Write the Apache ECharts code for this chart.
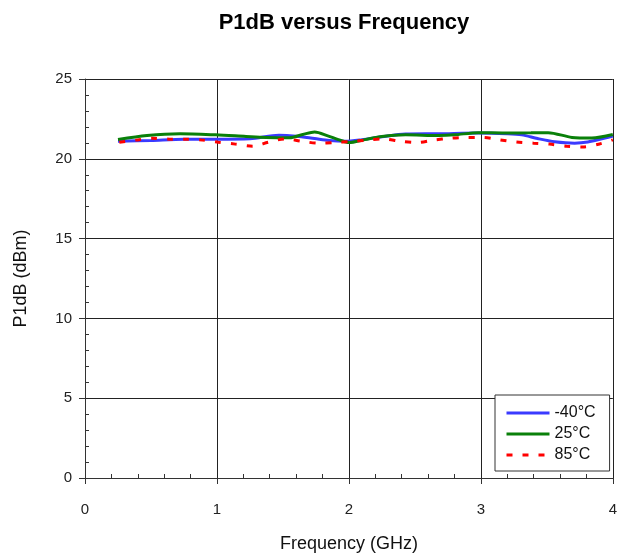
<!DOCTYPE html>
<html>
<head>
<meta charset="utf-8">
<script src="https://cdn.jsdelivr.net/npm/echarts@6/dist/echarts.min.js"></script>
<style>html,body{margin:0;padding:0;background:#fff;}#c{width:620px;height:559px;}</style>
</head>
<body>
<div id="c"></div>
<script>
var seriesNames = ['-40°C', '25°C', '85°C'];
var freqM40 = [0.25, 0.5, 0.75, 1.0, 1.25, 1.47, 1.6, 1.74, 1.85, 1.97, 2.1, 2.25, 2.43, 2.68, 2.98, 3.2, 3.31, 3.43, 3.56, 3.71, 3.81, 3.94, 4.0];
var p1dbM40 = [21.1, 21.15, 21.22, 21.22, 21.25, 21.48, 21.42, 21.27, 21.15, 21.1, 21.2, 21.38, 21.55, 21.57, 21.62, 21.57, 21.5, 21.27, 21.07, 20.98, 21.05, 21.3, 21.42];
var freq25 = [0.25, 0.47, 0.72, 0.99, 1.22, 1.37, 1.55, 1.65, 1.74, 1.84, 1.92, 2.0, 2.12, 2.25, 2.43, 2.68, 2.8, 2.98, 3.18, 3.38, 3.51, 3.69, 3.84, 4.0];
var p1db25 = [21.21, 21.46, 21.57, 21.5, 21.4, 21.34, 21.32, 21.52, 21.68, 21.44, 21.2, 21.02, 21.2, 21.4, 21.5, 21.46, 21.5, 21.64, 21.62, 21.63, 21.64, 21.34, 21.3, 21.52];
var freq85 = [0.26, 0.385, 0.51, 0.64, 0.76, 0.89, 1.01, 1.14, 1.27, 1.39, 1.52, 1.64, 1.77, 1.89, 2.01, 2.14, 2.26, 2.39, 2.52, 2.64, 2.77, 2.89, 3.02, 3.14, 3.27, 3.4, 3.52, 3.65, 3.77, 3.9, 4.0];
var p1db85 = [21.04, 21.17, 21.29, 21.23, 21.23, 21.17, 21.04, 20.92, 20.79, 21.04, 21.25, 21.1, 20.98, 21.02, 21.08, 21.17, 21.25, 21.1, 21.02, 21.17, 21.29, 21.34, 21.34, 21.19, 21.05, 20.98, 20.92, 20.79, 20.74, 20.93, 21.19];

function pairs(xs, ys) { return xs.map(function (x, i) { return [x, ys[i]]; }); }

var font = 'Liberation Sans, Arial, sans-serif';
var axisColor = '#333';
function mainAxis(extra) {
  return Object.assign({
    type: 'value',
    nameLocation: 'middle',
    nameTextStyle: { fontFamily: font, fontSize: 18, color: '#111' },
    axisLine: { show: true, onZero: false, lineStyle: { color: axisColor, width: 1 } },
    axisTick: { show: true, inside: false, length: 6, lineStyle: { color: axisColor } },
    minorTick: { show: false },
    splitLine: { show: true, lineStyle: { color: '#222', width: 1 } }
  }, extra);
}
function minorAxis(extra) {
  return Object.assign({
    type: 'value',
    axisLine: { show: false, onZero: false },
    axisTick: { show: false, inside: true },
    minorTick: { show: true, splitNumber: 5, length: 4, lineStyle: { color: axisColor } },
    axisLabel: { show: false },
    splitLine: { show: false }
  }, extra);
}

var chart = echarts.init(document.getElementById('c'));
chart.setOption({
  animation: false,
  backgroundColor: '#fff',
  title: {
    text: 'P1dB versus Frequency',
    left: 339, top: 7, textAlign: 'center',
    textStyle: { fontFamily: font, fontWeight: 'bold', fontSize: 22, color: '#000' }
  },
  grid: { left: 85, right: 5, top: 79, bottom: 81, containLabel: false },
  legend: {
    orient: 'vertical',
    left: 495, top: 395,
    padding: [10, 14, 8, 10],
    itemGap: 5,
    itemWidth: 43, itemHeight: 14,
    backgroundColor: '#fff',
    borderColor: '#333', borderWidth: 1,
    borderRadius: 0,
    itemStyle: { color: 'rgba(0,0,0,0)', borderWidth: 0, opacity: 0 },
    lineStyle: { width: 3 },
    textStyle: { fontFamily: font, fontSize: 16, color: '#111' },
    data: seriesNames
  },
  xAxis: [
    mainAxis({ min: 0, max: 4, interval: 1, position: 'bottom',
      name: 'Frequency (GHz)', nameGap: 57,
      axisLabel: { fontFamily: font, fontSize: 15, color: '#222', margin: 24 } }),
    minorAxis({ min: 0, max: 4, interval: 1, position: 'bottom', offset: 0 })
  ],
  yAxis: [
    mainAxis({ min: 0, max: 25, interval: 5, position: 'left',
      name: 'P1dB (dBm)', nameGap: 55,
      axisLabel: { fontFamily: font, fontSize: 15, color: '#222', margin: 13 } }),
    minorAxis({ min: 0, max: 25, interval: 5, position: 'left', offset: 0 })
  ],
  series: [
    { name: seriesNames[0], type: 'line', smooth: 0.3, symbol: 'none', data: pairs(freqM40, p1dbM40),
      itemStyle: { color: '#3a3aff' }, lineStyle: { color: '#3a3aff', width: 3 } },
    { name: seriesNames[1], type: 'line', smooth: 0.3, symbol: 'none', data: pairs(freq25, p1db25),
      itemStyle: { color: '#0a800a' }, lineStyle: { color: '#0a800a', width: 3 } },
    { name: seriesNames[2], type: 'line', smooth: 0.3, symbol: 'none', data: pairs(freq85, p1db85),
      itemStyle: { color: '#ff0000' }, lineStyle: { color: '#ff0000', width: 3, type: [6, 10] } }
  ]
});
</script>
</body>
</html>
